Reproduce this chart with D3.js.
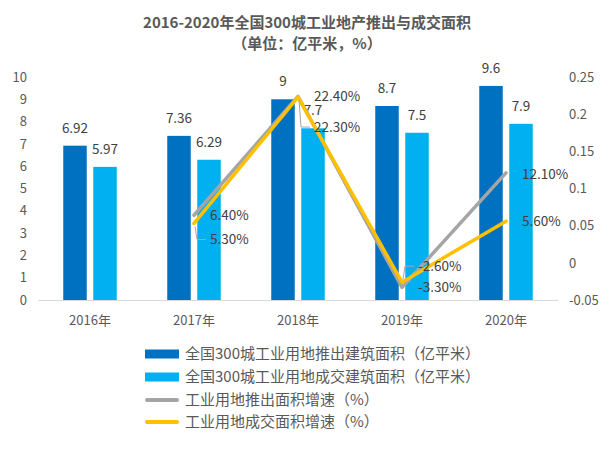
<!DOCTYPE html>
<html><head><meta charset="utf-8">
<script src="https://cdn.jsdelivr.net/npm/d3@7"></script>
<style>body{margin:0;background:#fff}svg{display:block}</style>
</head><body>
<svg id="c" width="613" height="449"></svg>
<script>
const categories = ["2016年","2017年","2018年","2019年","2020年"];
const pushArea = [6.92, 7.36, 9, 8.7, 9.6];
const dealArea = [5.97, 6.29, 7.7, 7.5, 7.9];
const pushGrowth = [null, 0.064, 0.224, -0.033, 0.121];
const dealGrowth = [null, 0.053, 0.223, -0.026, 0.056];
const pushGrowthLabels = [null, "6.40%", "22.40%", "-3.30%", "12.10%"];
const dealGrowthLabels = [null, "5.30%", "22.30%", "-2.60%", "5.60%"];
const leftTicks = [0,1,2,3,4,5,6,7,8,9,10];
const rightTicks = [-0.05,0,0.05,0.1,0.15,0.2,0.25];
const legendItems = ["全国300城工业用地推出建筑面积（亿平米）","全国300城工业用地成交建筑面积（亿平米）","工业用地推出面积增速（%）","工业用地成交面积增速（%）"];
// label layout offsets (vertical shift for moved labels)
const dealLabelDy = [0, 16, 30, -16, 0];
const pushLabelDy = [0, 0, 0, 0, 1];

const svg = d3.select("#c");
const font = "'Noto Sans CJK SC','Noto Sans',sans-serif";
const txt = "#595959";
const C1 = "#0070C0", C2 = "#00B0F0", CG = "#A5A5A5", CY = "#FFC000";

const x0 = d3.scaleBand().domain(categories).range([38, 558]);
const yL = d3.scaleLinear().domain([0,10]).range([300, 77]);
const yR = d3.scaleLinear().domain([-0.05,0.25]).range([300, 77]);
const bw = 23.5, gap = 6.5;
const cx = c => x0(c) + x0.bandwidth()/2;

// title
svg.append("text").attr("x",307).attr("y",28).attr("text-anchor","middle")
  .style("font-family",font).style("font-size","15px").style("font-weight","bold").style("fill",txt)
  .text("2016-2020年全国300城工业地产推出与成交面积");
svg.append("text").attr("x",307).attr("y",49).attr("text-anchor","middle")
  .style("font-family",font).style("font-size","15px").style("font-weight","bold").style("fill",txt)
  .text("（单位：亿平米，%）");

// left axis
const gl = svg.append("g").attr("transform","translate(27,0)")
  .call(d3.axisLeft(yL).tickValues(leftTicks).tickSize(0).tickPadding(0).tickFormat(d3.format("d")));
gl.select(".domain").remove();
gl.selectAll("text").style("font-family",font).style("font-size","13px").style("fill",txt);

// right axis
const gr = svg.append("g").attr("transform","translate(569,0)")
  .call(d3.axisRight(yR).tickValues(rightTicks).tickSize(0).tickPadding(0).tickFormat(d => String(+d.toFixed(2))));
gr.select(".domain").remove();
gr.selectAll("text").style("font-family",font).style("font-size","13px").style("fill",txt);

// baseline
svg.append("line").attr("x1",38).attr("x2",558).attr("y1",yL(0)+0.5).attr("y2",yL(0)+0.5)
  .attr("stroke","#D9D9D9").attr("stroke-width",1);

// x labels
const gx = svg.append("g").attr("transform",`translate(0,${yL(0)})`)
  .call(d3.axisBottom(x0).tickSize(0).tickPadding(16));
gx.select(".domain").remove();
gx.selectAll("text").style("font-family",font).style("font-size","13px").style("fill",txt);

// bars
categories.forEach((c,i) => {
  const cxx = cx(c);
  const bx1 = cxx - gap/2 - bw, bx2 = cxx + gap/2;
  svg.append("rect").attr("x",bx1).attr("y",yL(pushArea[i])).attr("width",bw).attr("height",yL(0)-yL(pushArea[i])).attr("fill",C1);
  svg.append("rect").attr("x",bx2).attr("y",yL(dealArea[i])).attr("width",bw).attr("height",yL(0)-yL(dealArea[i])).attr("fill",C2);
  svg.append("text").attr("x",bx1+bw/2).attr("y",yL(pushArea[i])-13).attr("text-anchor","middle")
    .style("font-family",font).style("font-size","13.5px").style("fill","#404040").text(String(pushArea[i]));
  svg.append("text").attr("x",bx2+bw/2).attr("y",yL(dealArea[i])-13).attr("text-anchor","middle")
    .style("font-family",font).style("font-size","13.5px").style("fill","#404040").text(String(dealArea[i]));
});

// lines
const line = d3.line().defined(d => d.v !== null).x(d => cx(d.c)).y(d => yR(d.v));
const gData = categories.map((c,i) => ({c, v: pushGrowth[i]}));
const yData = categories.map((c,i) => ({c, v: dealGrowth[i]}));
svg.append("path").datum(gData).attr("d",line).attr("fill","none").attr("stroke",CG).attr("stroke-width",3.5).attr("stroke-linejoin","round").attr("stroke-linecap","round");
svg.append("path").datum(yData).attr("d",line).attr("fill","none").attr("stroke",CY).attr("stroke-width",3.5).attr("stroke-linejoin","round").attr("stroke-linecap","round");

// line labels
categories.forEach((c,i) => {
  if (pushGrowth[i] === null) return;
  const px = cx(c);
  const gy = yR(pushGrowth[i]) + pushLabelDy[i];
  svg.append("text").attr("x",px+16).attr("y",gy).attr("dy","0.35em")
    .style("font-family",font).style("font-size","13.5px").style("fill","#404040").text(pushGrowthLabels[i]);
  const py = yR(dealGrowth[i]);
  const ly = py + dealLabelDy[i];
  svg.append("text").attr("x",px+16).attr("y",ly).attr("dy","0.35em")
    .style("font-family",font).style("font-size","13.5px").style("fill","#404040").text(dealGrowthLabels[i]);
  if (dealLabelDy[i] !== 0) {
    const sy = py + (dealLabelDy[i] > 0 ? 3 : -3);
    svg.append("path").attr("d",`M${px+1},${sy}L${px+3},${ly}L${px+12},${ly}`)
      .attr("fill","none").attr("stroke","#A6A6A6").attr("stroke-width",1);
  }
});

// legend
const legY = [354, 377, 400, 422];
legendItems.forEach((t,i) => {
  const y = legY[i];
  if (i < 2) {
    svg.append("rect").attr("x",145).attr("y",y-4.5).attr("width",34).attr("height",9).attr("fill",i===0?C1:C2);
  } else {
    svg.append("line").attr("x1",147).attr("x2",177).attr("y1",y).attr("y2",y)
      .attr("stroke",i===2?CG:CY).attr("stroke-width",4).attr("stroke-linecap","round");
  }
  svg.append("text").attr("x",185).attr("y",y).attr("dy","0.35em")
    .style("font-family",font).style("font-size","15px").style("fill",txt).text(t);
});
</script>
</body></html>
